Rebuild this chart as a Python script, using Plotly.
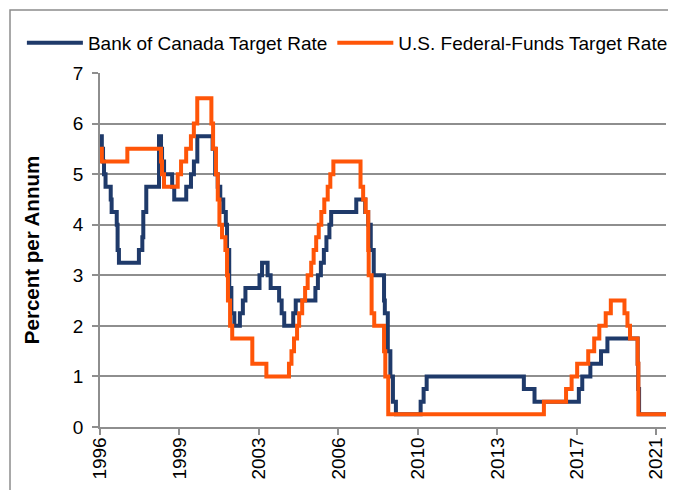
import plotly.graph_objects as go
import pandas as pd

# ---- Data: rate change dates and levels (percent per annum) ----
boc_dates = [
    "1996-01-01", "1996-01-31", "1996-02-20", "1996-03-07", "1996-04-01", "1996-06-25",
    "1996-07-10", "1996-10-02", "1996-10-16", "1996-11-07", "1997-10-01", "1997-11-26",
    "1997-12-12", "1998-01-30", "1998-08-27", "1998-09-29", "1998-10-16", "1998-11-18",
    "1999-03-31", "1999-05-04", "1999-11-17", "2000-02-03", "2000-03-22", "2000-05-17",
    "2001-01-23", "2001-03-06", "2001-04-17", "2001-05-29", "2001-07-17", "2001-08-28",
    "2001-09-17", "2001-10-23", "2001-11-27", "2002-01-15", "2002-04-16", "2002-06-04",
    "2002-07-16", "2003-03-04", "2003-04-15", "2003-07-15", "2003-09-03", "2004-01-20",
    "2004-03-02", "2004-04-13", "2004-09-08", "2004-10-19", "2005-09-07", "2005-10-18",
    "2005-12-06", "2006-01-24", "2006-03-07", "2006-04-25", "2006-05-24", "2007-07-10",
    "2007-12-04", "2008-01-22", "2008-03-04", "2008-04-22", "2008-10-08", "2008-10-21",
    "2008-12-09", "2009-01-20", "2009-03-03", "2009-04-21", "2010-06-01", "2010-07-20",
    "2010-09-08", "2015-01-21", "2015-07-15", "2017-07-12", "2017-09-06", "2018-01-17",
    "2018-07-11", "2018-10-24", "2020-03-04", "2020-03-13", "2020-03-27", "2021-06-12",
]
boc_rates = [
    5.75, 5.50, 5.25, 5.00, 4.75, 4.50,
    4.25, 4.00, 3.50, 3.25, 3.50, 3.75,
    4.25, 4.75, 5.75, 5.50, 5.25, 5.00,
    4.75, 4.50, 4.75, 5.00, 5.25, 5.75,
    5.50, 5.00, 4.75, 4.50, 4.25, 4.00,
    3.50, 2.75, 2.25, 2.00, 2.25, 2.50,
    2.75, 3.00, 3.25, 3.00, 2.75, 2.50,
    2.25, 2.00, 2.25, 2.50, 2.75, 3.00,
    3.25, 3.50, 3.75, 4.00, 4.25, 4.50,
    4.25, 4.00, 3.50, 3.00, 2.50, 2.25,
    1.50, 1.00, 0.50, 0.25, 0.50, 0.75,
    1.00, 0.75, 0.50, 0.75, 1.00, 1.25,
    1.50, 1.75, 1.25, 0.75, 0.25, 0.25,
]

fed_dates = [
    "1996-01-01", "1996-01-31", "1997-03-25", "1998-09-29", "1998-10-15", "1998-11-17",
    "1999-06-30", "1999-08-24", "1999-11-16", "2000-02-02", "2000-03-21", "2000-05-16",
    "2001-01-03", "2001-01-31", "2001-03-20", "2001-04-18", "2001-05-15", "2001-06-27",
    "2001-08-21", "2001-09-17", "2001-10-02", "2001-11-06", "2001-12-11", "2002-11-06",
    "2003-06-25", "2004-06-30", "2004-08-10", "2004-09-21", "2004-11-10", "2004-12-14",
    "2005-02-02", "2005-03-22", "2005-05-03", "2005-06-30", "2005-08-09", "2005-09-20",
    "2005-11-01", "2005-12-13", "2006-01-31", "2006-03-28", "2006-05-10", "2006-06-29",
    "2007-09-18", "2007-10-31", "2007-12-11", "2008-01-22", "2008-01-30", "2008-03-18",
    "2008-04-30", "2008-10-08", "2008-10-29", "2008-12-16", "2015-12-16", "2016-12-14",
    "2017-03-15", "2017-06-14", "2017-12-13", "2018-03-21", "2018-06-13", "2018-09-26",
    "2018-12-19", "2019-07-31", "2019-09-18", "2019-10-30", "2020-03-03", "2020-03-15",
    "2021-06-12",
]
fed_rates = [
    5.50, 5.25, 5.50, 5.25, 5.00, 4.75,
    5.00, 5.25, 5.50, 5.75, 6.00, 6.50,
    6.00, 5.50, 5.00, 4.50, 4.00, 3.75,
    3.50, 3.00, 2.50, 2.00, 1.75, 1.25,
    1.00, 1.25, 1.50, 1.75, 2.00, 2.25,
    2.50, 2.75, 3.00, 3.25, 3.50, 3.75,
    4.00, 4.25, 4.50, 4.75, 5.00, 5.25,
    4.75, 4.50, 4.25, 3.50, 3.00, 2.25,
    2.00, 1.50, 1.00, 0.25, 0.50, 0.75,
    1.00, 1.25, 1.50, 1.75, 2.00, 2.25,
    2.50, 2.25, 2.00, 1.75, 1.25, 0.25,
    0.25,
]

series_names = ["Bank of Canada Target Rate", "U.S. Federal-Funds Target Rate"]
tick_labels = ["1996", "1999", "2003", "2006", "2010", "2013", "2017", "2021"]

# ---- Axis geometry ----
x_start = pd.Timestamp("1996-01-01")
x_end = pd.Timestamp("2021-06-12")
tick_step_days = 1305
tick_vals = [x_start + pd.Timedelta(days=tick_step_days * i) for i in range(len(tick_labels))]

BLUE = "#1F3A6A"
ORANGE = "#FF5508"
GRID = "#8E8E8E"
FONT = "Liberation Sans, Arial, sans-serif"
FS = 19

fig = go.Figure()
fig.add_trace(go.Scatter(
    x=pd.to_datetime(boc_dates), y=boc_rates, mode="lines", name=series_names[0],
    line=dict(color=BLUE, width=4, shape="hv"),
))
fig.add_trace(go.Scatter(
    x=pd.to_datetime(fed_dates), y=fed_rates, mode="lines", name=series_names[1],
    line=dict(color=ORANGE, width=4, shape="hv"),
))

fig.update_layout(
    width=676, height=490,
    margin=dict(l=92, r=18, t=65, b=71, autoexpand=False),
    paper_bgcolor="white", plot_bgcolor="white",
    font=dict(family=FONT, size=FS, color="#000000"),
    showlegend=True,
    legend=dict(
        orientation="h", x=-0.138, xanchor="left", y=1.085, yanchor="middle",
        font=dict(family=FONT, size=FS, color="#000000"),
        itemwidth=56, bgcolor="rgba(0,0,0,0)", tracegroupgap=0,
    ),
    xaxis=dict(
        type="date", range=[x_start, x_end],
        tickmode="array", tickvals=tick_vals, ticktext=tick_labels,
        tickangle=-90, ticks="outside", ticklen=6, tickcolor=GRID, tickwidth=1.5,
        ticklabelstandoff=-5,
        showline=True, linecolor=GRID, linewidth=1.5,
        showgrid=False, zeroline=False, automargin=False,
        tickfont=dict(family=FONT, size=FS, color="#000000"),
    ),
    yaxis=dict(
        range=[0, 7], dtick=1, tick0=0,
        ticks="outside", ticklen=6, tickcolor=GRID, tickwidth=1.5,
        ticklabelstandoff=5,
        showline=True, linecolor=GRID, linewidth=1.5,
        showgrid=True, gridcolor=GRID, gridwidth=1.5, zeroline=False, automargin=False,
        tickfont=dict(family=FONT, size=FS, color="#000000"),
        title=dict(text="<b>Percent per Annum</b>", standoff=28,
                   font=dict(family=FONT, size=20.5, color="#000000")),
    ),
    shapes=[dict(
        type="rect", xref="paper", yref="paper",
        x0=-0.159, x1=1.1, y0=-0.3, y1=1.178,
        line=dict(color="#8C8C8C", width=1.5), fillcolor="rgba(0,0,0,0)", layer="below",
    )],
)

fig.write_html("out.html")
